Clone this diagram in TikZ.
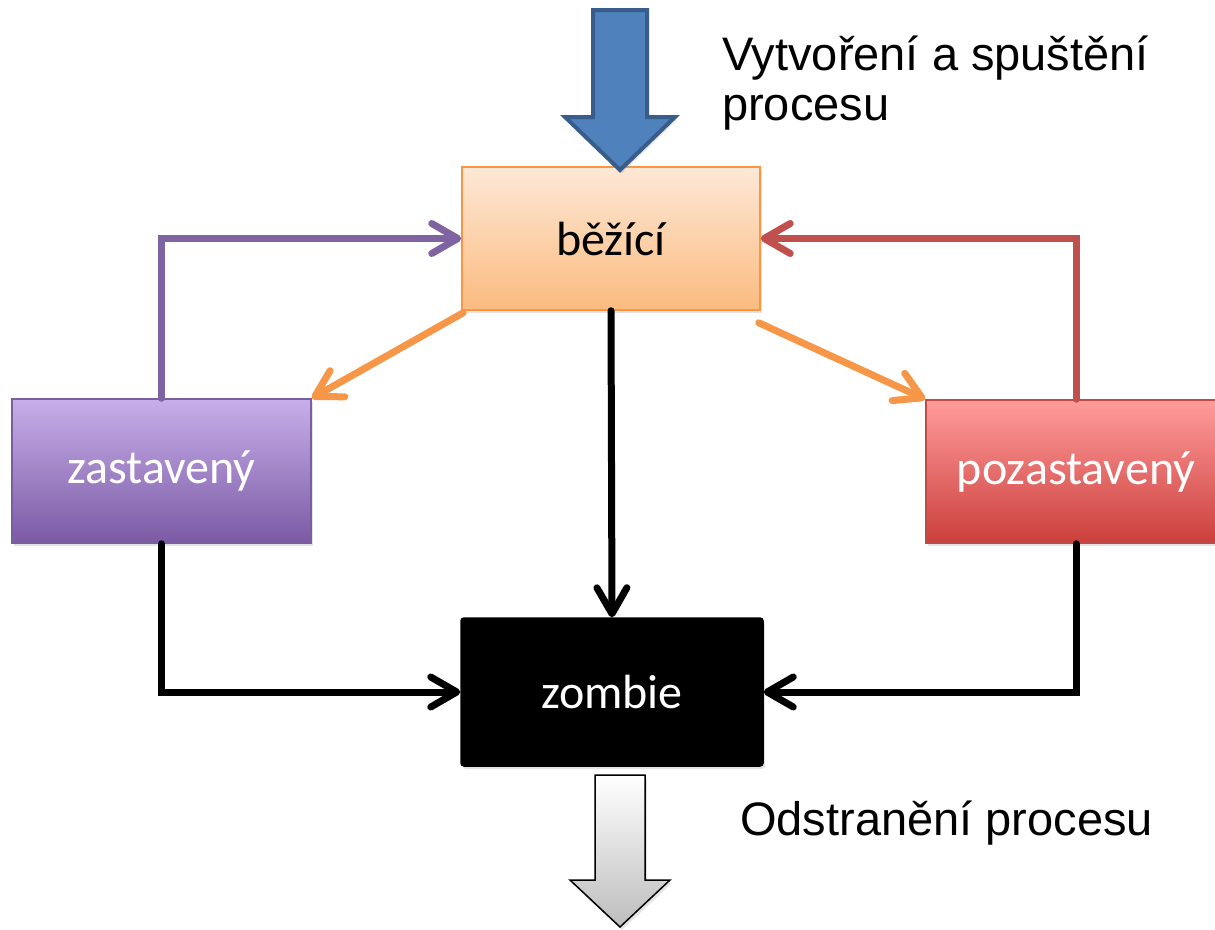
\documentclass[tikz,border=0pt]{standalone}
\usepackage{fontspec}
\setmainfont{Liberation Sans}
\newfontfamily\boxfont{Carlito}
\usetikzlibrary{arrows.meta,shadows}

% palette
\definecolor{runTop}{HTML}{FDE8D6}
\definecolor{runMid}{HTML}{FCD3AE}
\definecolor{runBot}{HTML}{FBBB80}
\definecolor{runLine}{HTML}{F79646}
\definecolor{stopTop}{HTML}{C8AEEA}
\definecolor{stopMid}{HTML}{B69BDC}
\definecolor{stopBot}{HTML}{7B5AA4}
\definecolor{stopLine}{HTML}{7A5F9E}
\definecolor{pauseTop}{HTML}{FF9C9C}
\definecolor{pauseMid}{HTML}{F08585}
\definecolor{pauseBot}{HTML}{CC3F3B}
\definecolor{pauseLine}{HTML}{BE4B48}
\definecolor{purpleLink}{HTML}{8064A2}
\definecolor{redLink}{HTML}{C0504D}
\definecolor{orangeLink}{HTML}{F79646}
\definecolor{blueFill}{HTML}{4F81BD}
\definecolor{blueLine}{HTML}{385D8A}
\definecolor{greyBot}{HTML}{BDBDBD}

\begin{document}
\begin{tikzpicture}[x=1pt,y=-1pt,
  state/.style={line width=1.5pt, minimum width=298pt, minimum height=143pt,
    inner sep=0pt, font=\boxfont\fontsize{48}{52}\selectfont,
    drop shadow={shadow xshift=2pt, shadow yshift=-3pt, opacity=0.22}},
  flow/.style={line width=7pt, line cap=round,
    -{Straight Barb[length=26pt,width=30pt,line cap=round,line join=round]}},
  note/.style={font=\fontsize{47}{50}\selectfont, inner sep=0pt, align=left},
  bigarrow/.style={line join=miter},
]
\useasboundingbox (0,0) rectangle (1215,929);
\clip (0,0) rectangle (1215,929);

% process states
\node[state, draw=runLine, top color=runTop, middle color=runMid, bottom color=runBot]
  (run) at (611,238.5) {běžící};
\node[state, draw=stopLine, top color=stopTop, middle color=stopMid, bottom color=stopBot,
  text=white, minimum width=299pt, minimum height=144pt]
  (stop) at (161.5,471) {zastavený};
\node[state, draw=pauseLine, top color=pauseTop, middle color=pauseMid, bottom color=pauseBot,
  text=white, minimum width=300pt]
  (pause) at (1076,471.5) {pozastavený};
\node[state, fill=black, draw=black, text=white, rounded corners=3pt,
  minimum width=302pt, minimum height=148pt]
  (zombie) at (612,692) {zombie};

% creation arrow
\path[bigarrow, draw=blueLine, line width=4pt, fill=blueFill,
  drop shadow={shadow xshift=2pt, shadow yshift=-3pt, opacity=0.2}]
  (593,10) -- (647,10) -- (647,117) -- (675,117) -- (620,170)
  -- (565,117) -- (593,117) -- cycle;
\node[note, anchor=base west] (create) at (722,120) {Vytvoření a spuštění\\procesu};

% removal arrow
\path[bigarrow, draw=black, line width=1.5pt, top color=white, bottom color=greyBot,
  drop shadow={shadow xshift=2pt, shadow yshift=-3pt, opacity=0.2}]
  (595,775) -- (645,775) -- (645,880) -- (670,880) -- (620,927)
  -- (570,880) -- (595,880) -- cycle;
\node[note, anchor=base west] (remove) at (740,835) {Odstranění procesu};

% transitions
\draw[flow, draw=purpleLink] (stop.north) |- (run.west);
\draw[flow, draw=redLink] (pause.north) |- (run.east);
\draw[flow, draw=orangeLink] ([xshift=2pt,yshift=-2pt]run.south west) -- (stop.north east);
\draw[flow, draw=orangeLink] ([xshift=-2pt,yshift=-12pt]run.south east) -- (pause.north west);
\draw[flow, draw=black] (run.south) -- (zombie.north);
\draw[flow, draw=black] (stop.south) |- (zombie.west);
\draw[flow, draw=black] (pause.south) |- (zombie.east);
\end{tikzpicture}
\end{document}
